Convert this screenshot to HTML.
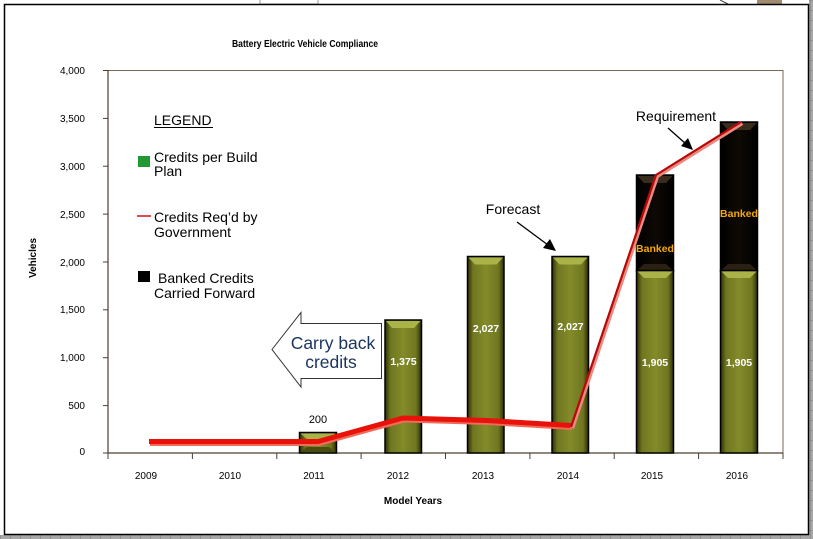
<!DOCTYPE html>
<html><head><meta charset="utf-8">
<style>
html,body{margin:0;padding:0;background:#fff;}
svg{display:block;font-family:"Liberation Sans",Arial,sans-serif;}
</style></head>
<body>
<svg width="813" height="539" viewBox="0 0 813 539" xmlns="http://www.w3.org/2000/svg">
<defs>
  <linearGradient id="gBar" x1="0" x2="1" y1="0" y2="0">
    <stop offset="0" stop-color="#2e2e06"/>
    <stop offset="0.15" stop-color="#6f7620"/>
    <stop offset="0.5" stop-color="#838b2a"/>
    <stop offset="0.85" stop-color="#6f7620"/>
    <stop offset="1" stop-color="#2e2e06"/>
  </linearGradient>
  <linearGradient id="gBlk" x1="0" x2="1" y1="0" y2="0">
    <stop offset="0" stop-color="#000"/>
    <stop offset="0.5" stop-color="#0e0904"/>
    <stop offset="1" stop-color="#000"/>
  </linearGradient>
  <pattern id="grid" width="10" height="10" patternUnits="userSpaceOnUse">
    <rect width="10" height="10" fill="#a8a8a8"/>
    <path d="M0 0H10M0 0V10" stroke="#7a7a7a" stroke-width="1"/>
  </pattern>
</defs>

<!-- spreadsheet background -->
<rect x="0" y="0" width="813" height="539" fill="#fff"/>
<rect x="809" y="0" width="4" height="539" fill="url(#grid)"/>
<rect x="0" y="535" width="813" height="4" fill="url(#grid)"/>
<rect x="260" y="-2" width="58" height="6" fill="#fff" stroke="#999" stroke-width="1"/>
<rect x="757" y="0" width="25" height="4" fill="#a08c6c"/>
<path d="M720 0 L728 4" stroke="#444" stroke-width="1"/>

<!-- chart frame -->
<rect x="4.5" y="4.5" width="804" height="530" fill="#fff" stroke="#000" stroke-width="1.5"/>

<!-- title -->
<text x="305" y="47" font-size="10" font-weight="bold" text-anchor="middle" transform="translate(305,0) scale(0.86,1) translate(-305,0)" fill="#000">Battery Electric Vehicle Compliance</text>

<!-- plot box -->
<rect x="108" y="70.5" width="675" height="382.5" fill="#fff" stroke="#7a6a52" stroke-width="1"/>
<line x1="108" y1="70" x2="108" y2="453" stroke="#4a4030" stroke-width="1.2"/>
<line x1="108" y1="453" x2="783" y2="453" stroke="#4a4030" stroke-width="1.2"/>

<!-- y ticks and labels -->
<g stroke="#4a4030" stroke-width="1">
  <line x1="103" y1="70.5" x2="108" y2="70.5"/>
  <line x1="103" y1="118.4" x2="108" y2="118.4"/>
  <line x1="103" y1="166.2" x2="108" y2="166.2"/>
  <line x1="103" y1="214.1" x2="108" y2="214.1"/>
  <line x1="103" y1="262" x2="108" y2="262"/>
  <line x1="103" y1="309.8" x2="108" y2="309.8"/>
  <line x1="103" y1="357.7" x2="108" y2="357.7"/>
  <line x1="103" y1="405.6" x2="108" y2="405.6"/>
  <line x1="103" y1="453" x2="108" y2="453"/>
</g>
<g font-size="10" text-anchor="end" fill="#000">
  <text x="85" y="74">4,000</text>
  <text x="85" y="122">3,500</text>
  <text x="85" y="170">3,000</text>
  <text x="85" y="218">2,500</text>
  <text x="85" y="266">2,000</text>
  <text x="85" y="313">1,500</text>
  <text x="85" y="361">1,000</text>
  <text x="85" y="409">500</text>
  <text x="85" y="455">0</text>
</g>
<text x="36" y="258" font-size="10" font-weight="bold" text-anchor="middle" transform="rotate(-90 36 258)">Vehicles</text>

<!-- x ticks -->
<g stroke="#4a4030" stroke-width="1">
  <line x1="108" y1="453" x2="108" y2="459"/>
  <line x1="192.4" y1="453" x2="192.4" y2="459"/>
  <line x1="276.8" y1="453" x2="276.8" y2="459"/>
  <line x1="361.1" y1="453" x2="361.1" y2="459"/>
  <line x1="445.5" y1="453" x2="445.5" y2="459"/>
  <line x1="529.9" y1="453" x2="529.9" y2="459"/>
  <line x1="614.2" y1="453" x2="614.2" y2="459"/>
  <line x1="698.6" y1="453" x2="698.6" y2="459"/>
  <line x1="783" y1="453" x2="783" y2="459"/>
</g>
<g font-size="10" text-anchor="middle" fill="#000">
  <text x="146" y="479">2009</text>
  <text x="230" y="479">2010</text>
  <text x="314" y="479">2011</text>
  <text x="398" y="479">2012</text>
  <text x="483" y="479">2013</text>
  <text x="568" y="479">2014</text>
  <text x="652" y="479">2015</text>
  <text x="737" y="479">2016</text>
</g>
<text x="413" y="504" font-size="10" font-weight="bold" text-anchor="middle">Model Years</text>

<!-- bars -->
<!-- 2011 -->
<g>
  <rect x="299.5" y="432.5" width="37" height="20.5" fill="url(#gBar)" stroke="#000" stroke-width="1.5"/>
  <polygon points="300.5,433.5 335.5,433.5 329,439 307,439" fill="#aab347"/>
  <polygon points="300.5,452 335.5,452 329,447 307,447" fill="#4a4c10"/>
</g>
<!-- 2012 -->
<g>
  <rect x="385" y="320" width="36.5" height="133" fill="url(#gBar)" stroke="#000" stroke-width="1.5"/>
  <polygon points="386,321 420.5,321 414,328 392,328" fill="#aab347"/>
</g>
<!-- 2013 -->
<g>
  <rect x="467.5" y="256.5" width="36.5" height="196.5" fill="url(#gBar)" stroke="#000" stroke-width="1.5"/>
  <polygon points="468.5,257.5 503,257.5 496.5,264.5 475,264.5" fill="#aab347"/>
</g>
<!-- 2014 -->
<g>
  <rect x="552" y="256.5" width="36.5" height="196.5" fill="url(#gBar)" stroke="#000" stroke-width="1.5"/>
  <polygon points="553,257.5 587.5,257.5 581,264.5 559.5,264.5" fill="#aab347"/>
</g>
<!-- 2015 -->
<g>
  <rect x="636.5" y="175" width="37" height="96" fill="url(#gBlk)" stroke="#000" stroke-width="1.5"/>
  <polygon points="637.5,176 672.5,176 666,183 644,183" fill="#3a2c1c"/>
  <polygon points="637.5,270 672.5,270 666,264 644,264" fill="#2a2014"/>
  <rect x="636.5" y="270.5" width="37" height="182.5" fill="url(#gBar)" stroke="#000" stroke-width="1.5"/>
  <polygon points="637.5,271.5 672.5,271.5 666,278 644,278" fill="#aab347"/>
</g>
<!-- 2016 -->
<g>
  <rect x="720.5" y="122" width="37" height="149" fill="url(#gBlk)" stroke="#000" stroke-width="1.5"/>
  <polygon points="721.5,123 756.5,123 750,130 728,130" fill="#3a2c1c"/>
  <polygon points="721.5,270 756.5,270 750,264 728,264" fill="#2a2014"/>
  <rect x="720.5" y="270.5" width="37" height="182.5" fill="url(#gBar)" stroke="#000" stroke-width="1.5"/>
  <polygon points="721.5,271.5 756.5,271.5 750,278 728,278" fill="#aab347"/>
</g>

<!-- bar labels -->
<text x="318" y="423" font-size="11" text-anchor="middle" fill="#000">200</text>
<g font-size="10.5" font-weight="bold" text-anchor="middle" fill="#fff">
  <text x="403.5" y="365">1,375</text>
  <text x="486" y="332">2,027</text>
  <text x="570.5" y="330">2,027</text>
  <text x="655" y="366">1,905</text>
  <text x="739" y="366">1,905</text>
</g>
<g font-size="10.5" font-weight="bold" text-anchor="middle" fill="#f5a800">
  <text x="655" y="252">Banked</text>
  <text x="739" y="217">Banked</text>
</g>

<!-- requirement line -->
<polyline points="149,442.5 318,442.5 403,419 487,421.5 571,426.5" fill="none" stroke="#f06a5a" stroke-width="5" stroke-linejoin="round" transform="translate(1,1)"/>
<polyline points="149,441.5 318,441.5 403,418 487,420.5 571,425.5" fill="none" stroke="#e8120a" stroke-width="5" stroke-linejoin="round"/>
<polyline points="571,427 656,175 741,122" fill="none" stroke="#e88a80" stroke-width="4.5" stroke-linejoin="round" transform="translate(1,1)"/>
<polyline points="571,427 656,175 741,122" fill="none" stroke="#b80808" stroke-width="2.2" stroke-linejoin="round"/>

<!-- carry back arrow -->
<polygon points="272,349.5 301,312.5 301,323.5 381.5,323.5 381.5,378.5 301,378.5 301,387" fill="#fff" stroke="#333" stroke-width="1"/>
<text x="333" y="349" font-size="17.5" text-anchor="middle" fill="#1a3560">Carry back</text>
<text x="331" y="368" font-size="17.5" text-anchor="middle" fill="#1a3560">credits</text>

<!-- legend -->
<text x="154" y="125" font-size="14" fill="#000">LEGEND</text>
<line x1="154" y1="127.5" x2="213" y2="127.5" stroke="#000" stroke-width="1"/>
<rect x="138" y="156" width="12" height="11" fill="#1f9a35"/>
<text x="154" y="162" font-size="14" fill="#000">Credits per Build</text>
<text x="154" y="176" font-size="14" fill="#000">Plan</text>
<line x1="137" y1="216" x2="151" y2="216" stroke="#d01010" stroke-width="1.5"/>
<text x="154" y="222" font-size="14" fill="#000">Credits Req’d by</text>
<text x="154" y="237" font-size="14" fill="#000">Government</text>
<rect x="138" y="271" width="12" height="11" fill="#000"/>
<text x="158" y="283" font-size="14" fill="#000">Banked Credits</text>
<text x="154" y="298" font-size="14" fill="#000">Carried Forward</text>

<!-- annotations -->
<text x="676" y="121" font-size="14" text-anchor="middle" fill="#000">Requirement</text>
<line x1="668" y1="128" x2="686" y2="144" stroke="#000" stroke-width="1.3"/>
<polygon points="693,150 681,146 688,138" fill="#000"/>
<text x="513" y="214" font-size="14" text-anchor="middle" fill="#000">Forecast</text>
<line x1="517" y1="222" x2="548" y2="245" stroke="#000" stroke-width="1.3"/>
<polygon points="556,251 543,248 550,239" fill="#000"/>
</svg>
</body></html>
